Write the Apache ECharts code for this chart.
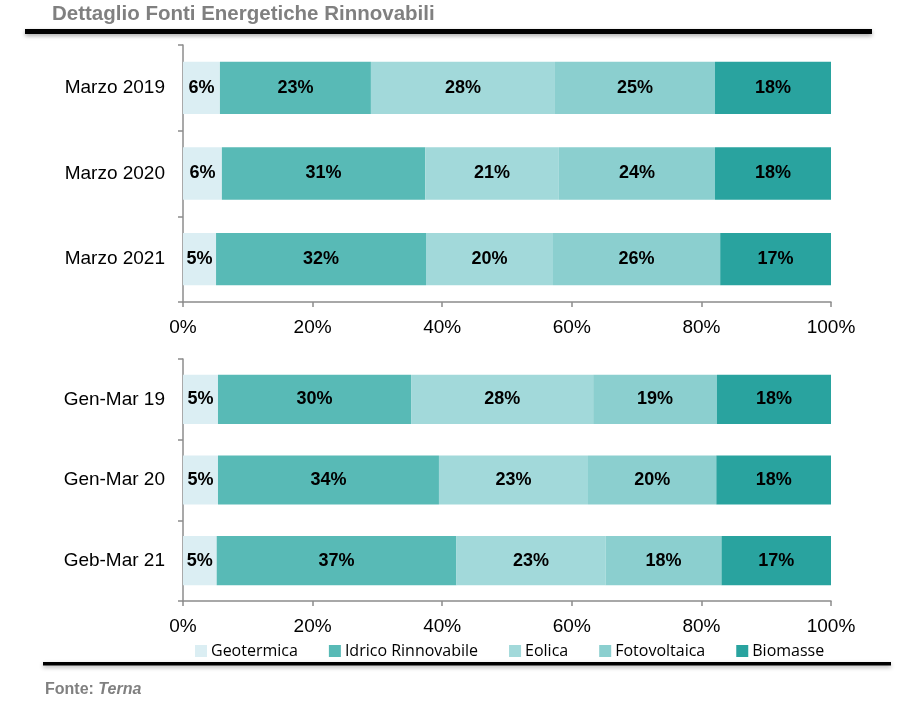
<!DOCTYPE html>
<html><head><meta charset="utf-8">
<script src="https://cdn.jsdelivr.net/npm/echarts@6/dist/echarts.min.js"></script>
<style>html,body{margin:0;padding:0;background:#fff}#c{width:901px;height:706px}</style>
</head><body><div id="c"></div>
<script>
const catsTop = ['Marzo 2019', 'Marzo 2020', 'Marzo 2021'];
const catsBot = ['Gen-Mar 19', 'Gen-Mar 20', 'Geb-Mar 21'];
const seriesNames = ['Geotermica', 'Idrico Rinnovabile', 'Eolica', 'Fotovoltaica', 'Biomasse'];
const colors = ['#dbeef3', '#58bab6', '#a2d9da', '#8bcfcf', '#29a39f'];
// percentages per series (top group)
const geoTop = [5.7, 6.0, 5.1];
const idrTop = [23.3, 31.4, 32.4];
const eolTop = [28.4, 20.6, 19.6];
const fotTop = [24.7, 24.1, 25.8];
const bioTop = [17.9, 17.9, 17.1];
// bottom group
const geoBot = [5.4, 5.4, 5.2];
const idrBot = [29.8, 34.1, 37.0];
const eolBot = [28.1, 23.0, 23.0];
const fotBot = [19.1, 19.8, 17.9];
const bioBot = [17.6, 17.7, 16.9];
const xTicks = [0, 20, 40, 60, 80, 100];

const topData = [geoTop, idrTop, eolTop, fotTop, bioTop];
const botData = [geoBot, idrBot, eolBot, fotBot, bioBot];

const baseFont = '"Liberation Sans", Arial, sans-serif';
const axisColor = '#8c8c8c';

function xAxisCfg(idx) {
  return {
    type: 'value', gridIndex: idx, min: xTicks[0], max: xTicks[xTicks.length - 1], interval: xTicks[1] - xTicks[0],
    axisLine: { show: true, lineStyle: { color: axisColor, width: 1.5 } },
    axisTick: { show: true, length: 5, lineStyle: { color: axisColor, width: 1.5 } },
    splitLine: { show: false },
    axisLabel: { formatter: v => v + '%', color: '#000', fontSize: 19, fontFamily: baseFont, margin: 16 }
  };
}
function yAxisCfg(idx, cats) {
  return {
    type: 'category', gridIndex: idx, data: cats, inverse: true,
    axisLine: { show: true, lineStyle: { color: axisColor, width: 1.5 } },
    axisTick: { show: true, length: 5, inside: false, lineStyle: { color: axisColor, width: 1.5 } },
    axisLabel: { color: '#000', fontSize: 19, fontFamily: baseFont, margin: 18 }
  };
}

const series = [];
[topData, botData].forEach((grp, gi) => {
  grp.forEach((arr, si) => {
    series.push({
      name: seriesNames[si], type: 'bar', stack: 'g' + gi,
      xAxisIndex: gi, yAxisIndex: gi,
      data: arr, barWidth: '61%',
      itemStyle: { color: colors[si] },
      label: {
        show: true, position: 'inside', color: '#000', fontWeight: 'bold',
        fontSize: 18, fontFamily: baseFont,
        formatter: p => Math.round(p.value) + '%'
      }
    });
  });
});

const chart = echarts.init(document.getElementById('c'), null, { renderer: 'canvas' });
chart.setOption({
  animation: false,
  backgroundColor: '#fff',
  color: colors,
  grid: [
    { left: 183, right: 70, top: 45, height: 257 },
    { left: 183, right: 70, top: 359, height: 242 }
  ],
  xAxis: [xAxisCfg(0), xAxisCfg(1)],
  yAxis: [yAxisCfg(0, catsTop), yAxisCfg(1, catsBot)],
  legend: {
    data: seriesNames, left: 190, top: 638, itemWidth: 12, itemHeight: 12, itemGap: 31,
    icon: 'rect',
    textStyle: { color: '#000', fontSize: 16, fontFamily: '"Open Sans", "Noto Sans", sans-serif', padding: [0, 0, 0, -1] }
  },
  graphic: [
    { type: 'text', left: 52, top: 4, style: { text: 'Dettaglio Fonti Energetiche Rinnovabili', fill: '#808080', font: 'bold 20.5px "Liberation Sans", Arial, sans-serif' } },
    { type: 'rect', shape: { x: 25, y: 29, width: 847, height: 5 }, style: { fill: '#000', shadowBlur: 4, shadowColor: 'rgba(0,0,0,0.35)', shadowOffsetY: 2 } },
    { type: 'rect', shape: { x: 43, y: 662, width: 848, height: 3.5 }, style: { fill: '#000', shadowBlur: 4, shadowColor: 'rgba(0,0,0,0.3)', shadowOffsetY: 2 } },
    { type: 'text', left: 45, top: 682, style: { rich: { a: { fill: '#808080', font: 'bold 16px "Liberation Sans", Arial, sans-serif' }, b: { fill: '#808080', font: 'italic bold 16px "Liberation Sans", Arial, sans-serif' } }, text: '{a|Fonte: }{b|Terna}' } }
  ],
  series: series
});
</script></body></html>
